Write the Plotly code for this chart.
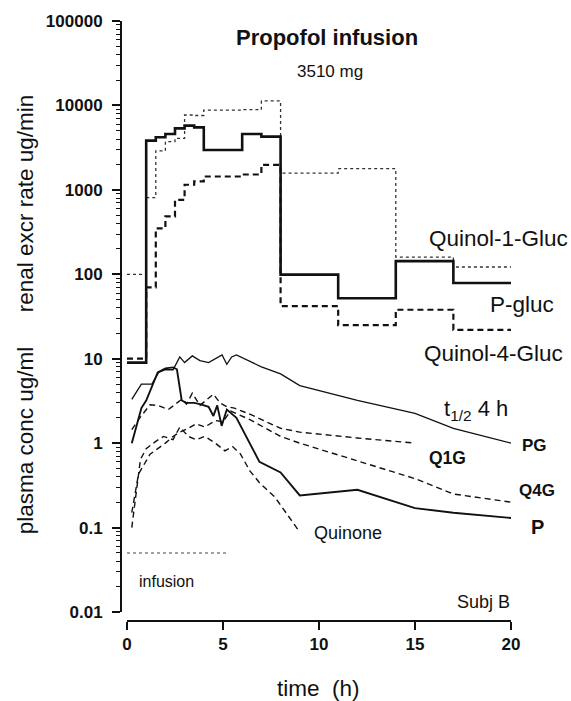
import plotly.graph_objects as go

# ---------------- data ----------------
# renal excretion rate (ug/min), collection intervals (h)
renal_edges = [0, 1, 1.5, 2, 2.5, 3, 3.5, 4, 6, 7, 8, 11, 14, 17, 20]
renal_pgluc = [9, 3830, 4190, 4590, 5350, 5760, 5500, 2970, 4590, 4270, 99, 52, 143, 79]
renal_q1g = [100, 810, 2900, 3730, 4080, 7700, 7600, 8800, 8900, 11300, 1580, 1780, 160, 122]
renal_q4g = [10, 70, 350, 485, 760, 1150, 1260, 1440, 1520, 1980, 42, 25, 38, 22]

# plasma concentrations (ug/ml)
pg_t = [0.25, 0.75, 1.3, 1.65, 2.0, 2.4, 2.75, 3.0, 3.4, 3.8, 4.25, 4.6, 4.95, 5.2, 5.45, 5.7, 7.0, 8.0, 9.0, 12.0, 15.0, 17.0, 20.0]
pg_c = [3.3, 5.0, 5.0, 6.9, 7.4, 7.4, 10.5, 9.0, 10.8, 9.5, 9.0, 10.1, 11.1, 8.6, 10.5, 11.1, 8.0, 6.6, 4.8, 3.2, 2.25, 1.5, 1.0]

p_t = [0.25, 0.75, 1.0, 1.25, 1.6, 2.0, 2.4, 2.6, 2.85, 3.1, 3.5, 3.8, 4.25, 4.5, 4.7, 4.93, 5.2, 5.7, 6.4, 6.9, 8.0, 9.0, 12.0, 15.0, 17.0, 20.0]
p_c = [1.0, 2.6, 3.2, 4.5, 6.9, 7.7, 7.9, 7.5, 3.2, 3.0, 3.0, 2.9, 2.7, 2.1, 2.8, 1.6, 2.5, 2.0, 1.0, 0.6, 0.45, 0.24, 0.28, 0.17, 0.15, 0.13]

q1g_t = [0.25, 0.6, 1.2, 1.6, 2.15, 2.85, 3.1, 3.4, 3.8, 4.5, 4.85, 5.2, 5.6, 6.4, 8.0, 9.0, 12.0, 15.0]
q1g_c = [1.45, 1.9, 2.85, 2.8, 2.5, 3.3, 2.9, 3.9, 2.8, 3.8, 3.0, 2.7, 2.6, 2.2, 1.5, 1.35, 1.15, 1.0]

q4g_t = [0.25, 0.6, 1.2, 2.0, 2.4, 2.75, 3.2, 3.6, 4.05, 4.6, 5.0, 5.4, 6.4, 8.0, 9.0, 12.0, 15.0, 17.0, 20.0]
q4g_c = [0.15, 0.43, 0.74, 1.0, 1.2, 1.35, 1.5, 1.7, 1.55, 1.85, 1.8, 2.4, 1.9, 1.2, 1.0, 0.62, 0.38, 0.25, 0.20]

quin_t = [0.25, 0.7, 1.0, 1.5, 1.9, 2.4, 2.75, 3.2, 3.6, 4.05, 4.6, 5.1, 5.5, 5.9, 6.4, 6.9, 7.7, 8.9]
quin_c = [0.10, 0.64, 0.86, 1.05, 1.2, 1.1, 1.55, 1.2, 1.1, 1.2, 1.0, 0.81, 0.91, 0.75, 0.47, 0.34, 0.23, 0.095]

infusion_t = [0, 5.25]
infusion_level = [0.05, 0.05]

x_ticks = [0, 5, 10, 15, 20]
y_tickvals = [0.01, 0.1, 1, 10, 100, 1000, 10000, 100000]
y_ticktext = ["0.01", "0.1", "1", "10", "100", "1000", "10000", "100000"]

FONT = "Arial, Liberation Sans, Helvetica, sans-serif"
BLACK = "#111111"

fig = go.Figure()

def step(levels):
    return levels + [levels[-1]]

fig.add_trace(go.Scatter(x=renal_edges, y=step(renal_q1g), mode="lines", line_shape="hv",
                         line=dict(color="#333333", width=1.3, dash="dot"), name="Quinol-1-Gluc"))
fig.add_trace(go.Scatter(x=renal_edges, y=step(renal_q4g), mode="lines", line_shape="hv",
                         line=dict(color=BLACK, width=2.2, dash="6px,4px"), name="Quinol-4-Gluc"))
fig.add_trace(go.Scatter(x=renal_edges, y=step(renal_pgluc), mode="lines", line_shape="hv",
                         line=dict(color=BLACK, width=2.6), name="P-gluc"))

fig.add_trace(go.Scatter(x=pg_t, y=pg_c, mode="lines", line=dict(color=BLACK, width=1.3), name="PG"))
fig.add_trace(go.Scatter(x=p_t, y=p_c, mode="lines", line=dict(color=BLACK, width=1.9), name="P"))
fig.add_trace(go.Scatter(x=q1g_t, y=q1g_c, mode="lines", line=dict(color=BLACK, width=1.4, dash="6px,4px"), name="Q1G"))
fig.add_trace(go.Scatter(x=q4g_t, y=q4g_c, mode="lines", line=dict(color=BLACK, width=1.4, dash="6px,4px"), name="Q4G"))
fig.add_trace(go.Scatter(x=quin_t, y=quin_c, mode="lines", line=dict(color=BLACK, width=1.4, dash="6px,4px"), name="Quinone"))
fig.add_trace(go.Scatter(x=infusion_t, y=infusion_level, mode="lines", line=dict(color="#444444", width=1, dash="dot"), name="infusion"))

# x-axis line only from 0 to 20
fig.add_shape(type="line", xref="x", yref="paper", x0=0, x1=20, y0=0, y1=0,
              line=dict(color=BLACK, width=2))

def ann(text, x, y, size, bold=False, xanchor="left", yanchor="middle", angle=0):
    fig.add_annotation(x=x, y=y, xref="paper", yref="paper", text=(f"<b>{text}</b>" if bold else text),
                       showarrow=False, xanchor=xanchor, yanchor=yanchor, textangle=angle,
                       font=dict(family=FONT, size=size, color=BLACK))

ann("Propofol infusion", 0.285, 0.973, 22, bold=True)
ann("3510 mg", 0.440, 0.915, 17)
ann("Quinol-1-Gluc", 0.775, 0.638, 22.5)
ann("P-gluc", 0.931, 0.528, 22.5)
ann("Quinol-4-Gluc", 0.763, 0.445, 22.5)
ann("t<sub>1/2</sub> 4 h", 0.813, 0.352, 22)
ann("PG", 1.013, 0.292, 17, bold=True)
ann("Q1G", 0.775, 0.272, 17.5, bold=True)
ann("Q4G", 1.004, 0.218, 17, bold=True)
ann("P", 1.036, 0.156, 20, bold=True)
ann("Quinone", 0.483, 0.146, 18)
ann("infusion", 0.038, 0.066, 16)
ann("Subj B", 0.992, 0.032, 18, xanchor="right")
ann("time  (h)", 0.499, -0.113, 22.5, xanchor="center")
ann("renal excr rate ug/min", -0.247, 0.696, 22.5, xanchor="center", angle=-90)
ann("plasma conc ug/ml", -0.247, 0.301, 22.5, xanchor="center", angle=-90)

fig.update_layout(
    width=571, height=701,
    margin=dict(l=122, r=56, t=19, b=80),
    paper_bgcolor="white", plot_bgcolor="white",
    showlegend=False,
    font=dict(family=FONT, color=BLACK),
    xaxis=dict(range=[-0.26, 20.21], tickvals=x_ticks, ticks="outside", ticklen=8, tickwidth=1.5,
               tickcolor=BLACK, showline=False, showgrid=False, zeroline=False,
               anchor="free", position=0,
               tickfont=dict(family=FONT, size=17, color=BLACK, weight="bold")),
    yaxis=dict(type="log", range=[-2, 5], domain=[0.015, 1],
               tickvals=y_tickvals, ticktext=y_ticktext,
               ticks="outside", ticklen=8, tickwidth=1.5, tickcolor=BLACK,
               ticklabelstandoff=6,
               showline=True, linewidth=2, linecolor=BLACK, showgrid=False, zeroline=False,
               minor=dict(ticks="outside", ticklen=4, tickwidth=1, tickcolor=BLACK,
                          tickmode="linear", dtick="D1", showgrid=False),
               tickfont=dict(family=FONT, size=17, color=BLACK, weight="bold")),
)

fig.write_html("out.html")
